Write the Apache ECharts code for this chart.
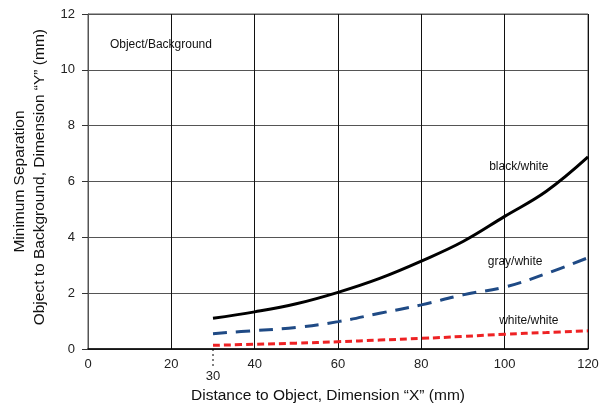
<!DOCTYPE html>
<html><head><meta charset="utf-8">
<script src="https://cdn.jsdelivr.net/npm/echarts@6/dist/echarts.min.js"></script>
<style>html,body{margin:0;padding:0;background:#fff}#c{width:605px;height:411px}</style>
</head><body><div id="c"></div>
<script>
const xValues = [30, 40, 50, 60, 70, 80, 90, 100, 110, 120];
const blackWhite = [1.1, 1.33, 1.62, 2.03, 2.53, 3.15, 3.85, 4.75, 5.65, 6.88];
const grayWhite = [0.55, 0.66, 0.77, 0.98, 1.28, 1.58, 1.94, 2.22, 2.7, 3.27];
const whiteWhite = [0.13, 0.17, 0.21, 0.26, 0.32, 0.38, 0.45, 0.53, 0.59, 0.65];
const xTicks = [0, 20, 40, 60, 80, 100, 120];
const yTicks = [0, 2, 4, 6, 8, 10, 12];
const annotations = [
  {name: 'Object/Background', x: 17.5, y: 10.9},
  {name: 'black/white', x: 103.4, y: 6.52},
  {name: 'gray/white', x: 102.5, y: 3.12},
  {name: 'white/white', x: 105.8, y: 1.0}
];
const startMark = 30;

const FONT = '"Liberation Sans Narrow", "Arial Narrow", "Liberation Sans", Arial, sans-serif';
const pairs = arr => xValues.map((x, i) => [x, arr[i]]);
const chart = echarts.init(document.getElementById('c'), null, {renderer: 'canvas'});
chart.setOption({
  animation: false,
  backgroundColor: '#fff',
  grid: {left: 88, right: 17, top: 14, bottom: 62, show: true, borderColor: '#555', borderWidth: 1,
    containLabel: false, outerBoundsMode: 'none'},
  xAxis: {
    type: 'value', min: 0, max: 120, interval: 20,
    name: 'Distance to Object, Dimension \u201CX\u201D (mm)', nameLocation: 'middle', nameGap: 39,
    nameTextStyle: {fontFamily: FONT, fontSize: 15.5, color: '#111', padding: [0, 20, 0, 0]},
    axisLine: {lineStyle: {color: '#000', width: 1.5}},
    axisTick: {show: false},
    axisLabel: {fontFamily: FONT, fontSize: 13, color: '#222', margin: 9,
      formatter: v => xTicks.includes(v) ? String(v) : ''},
    splitLine: {show: true, lineStyle: {color: '#111', width: 1}}
  },
  yAxis: {
    type: 'value', min: 0, max: 12, interval: 2,
    name: 'Minimum Separation\n\u00A0\u00A0Object to Background, Dimension \u201CY\u201D (mm)', nameLocation: 'middle', nameGap: 36,
    nameTextStyle: {fontFamily: FONT, fontSize: 15.5, color: '#111', lineHeight: 20},
    axisLine: {show: true, lineStyle: {color: '#555', width: 1}},
    axisTick: {show: true, inside: false, length: 6, lineStyle: {color: '#333'}},
    axisLabel: {fontFamily: FONT, fontSize: 13, color: '#222', margin: 13,
      formatter: v => yTicks.includes(v) ? String(v) : ''},
    splitLine: {show: true, lineStyle: {color: '#555', width: 1}}
  },
  series: [
    {type: 'line', name: 'black/white', data: pairs(blackWhite), smooth: 0.4, symbol: 'none',
      lineStyle: {color: '#000', width: 3}},
    {type: 'line', name: 'gray/white', data: pairs(grayWhite), smooth: 0.4, symbol: 'none',
      lineStyle: {color: '#1f4a85', width: 3, type: [14, 9]}},
    {type: 'line', name: 'white/white', data: pairs(whiteWhite), smooth: 0.4, symbol: 'none',
      lineStyle: {color: '#ee2224', width: 3, type: [7, 4]}},
    {type: 'line', name: 'start', data: [[startMark, 0], [startMark, -0.62]], clip: false, symbol: 'none',
      lineStyle: {color: '#000', width: 1, type: [2, 3]}},
    {type: 'scatter', name: 'startLabel', data: [[startMark, -0.62]], clip: false, symbolSize: 0,
      itemStyle: {opacity: 1},
      label: {show: true, position: 'bottom', distance: 4, fontFamily: FONT, fontSize: 13, color: '#222',
        formatter: () => String(startMark)}},
    {type: 'scatter', data: annotations.map(a => ({name: a.name, value: [a.x, a.y]})), symbolSize: 0,
      itemStyle: {opacity: 1},
      label: {show: true, position: 'inside', fontFamily: FONT, fontSize: 12, color: '#111', formatter: p => p.name}}
  ]
});
</script></body></html>
